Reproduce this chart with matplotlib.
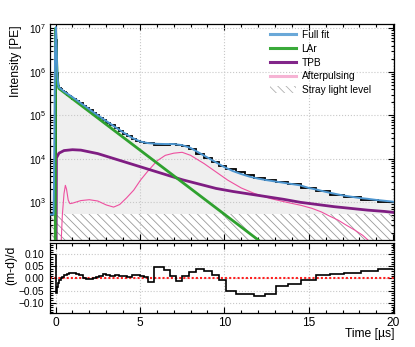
import os
import numpy as np
import matplotlib
matplotlib.use("Agg")
import matplotlib.pyplot as plt
from matplotlib import font_manager as fm
from matplotlib.lines import Line2D
from matplotlib.patches import Patch, Rectangle
from matplotlib.ticker import LogLocator, MultipleLocator, NullFormatter, FuncFormatter

# avoid the narrow variant being picked for "Liberation Sans"
fm.fontManager.ttflist = [f for f in fm.fontManager.ttflist
                          if 'narrow' not in os.path.basename(f.fname).lower()]

plt.rcParams['font.family'] = ['Liberation Sans', 'DejaVu Sans']
plt.rcParams['mathtext.fontset'] = 'custom'
plt.rcParams['mathtext.rm'] = 'Liberation Sans'
plt.rcParams['mathtext.default'] = 'regular'
plt.rcParams['hatch.linewidth'] = 0.6
plt.rcParams['axes.unicode_minus'] = True

# ---------------- data ----------------
# full fit (log10 of intensity)
fit_t = [-0.35, -0.12, -0.09, -0.06, -0.03, 0.0, 0.02, 0.05, 0.08, 0.11, 0.15, 0.19,
         0.5, 1.0, 1.5, 2.0, 2.5, 3.0, 3.5, 4.0, 4.5, 5.0, 5.5, 6.0, 6.5, 7.0, 7.5,
         8.0, 8.5, 9.0, 9.5, 10.0, 10.5, 11.0, 11.5, 12.0, 12.5, 13.0, 13.5, 14.0,
         14.5, 15.0, 15.5, 16.0, 16.5, 17.0, 17.5, 18.0, 18.5, 19.0, 19.5, 20.0, 20.3]
fit_log = [2.72, 2.72, 3.6, 5.0, 6.4, 6.9, 7.03, 6.75, 6.25, 5.9, 5.72, 5.65,
           5.55, 5.42, 5.28, 5.14, 5.00, 4.87, 4.74, 4.61, 4.49, 4.40, 4.36, 4.345,
           4.34, 4.34, 4.315, 4.25, 4.14, 4.03, 3.92, 3.81, 3.72, 3.65, 3.59, 3.545,
           3.51, 3.48, 3.45, 3.42, 3.39, 3.33, 3.29, 3.24, 3.20, 3.16, 3.13, 3.10,
           3.08, 3.055, 3.035, 3.015, 3.005]

# LAr component
lar_t = [-0.02, 0.0, 0.05, 0.1, 0.19, 2.0, 4.0, 6.0, 8.0, 10.0, 12.0, 13.0]
lar_log = [1.5, 7.0, 6.4, 5.85, 5.62, 5.086, 4.496, 3.906, 3.316, 2.726, 2.136, 1.84]

# TPB component
tpb_t = [0.03, 0.05, 0.2, 0.5, 1.0, 1.5, 2.5, 3.5, 4.5, 5.5, 6.5, 7.5, 8.5, 9.5,
         10.5, 11.5, 12.5, 13.5, 14.5, 15.5, 16.5, 17.5, 18.5, 19.5, 20.2]
tpb_log = [1.5, 4.02, 4.13, 4.19, 4.21, 4.20, 4.12, 4.00, 3.88, 3.76, 3.64, 3.52,
           3.42, 3.32, 3.25, 3.19, 3.13, 3.07, 3.00, 2.95, 2.90, 2.86, 2.82, 2.79, 2.76]

# Afterpulsing component
ap_t = [0.3, 0.4, 0.5, 0.58, 0.65, 0.75, 0.85, 1.0, 1.5, 2.0, 2.5, 3.0, 3.44, 3.8,
        4.2, 4.63, 5.03, 5.43, 6.0, 6.5, 7.0, 7.5, 8.0, 8.8, 9.5, 10.2, 11.0, 11.8,
        12.8, 13.7, 14.55, 15.2, 15.74, 16.2, 16.74, 17.2, 17.73, 18.2, 18.6, 18.9]
ap_log = [1.8, 2.7, 3.2, 3.39, 3.3, 3.05, 2.97, 2.98, 3.04, 3.06, 3.03, 2.94, 2.89,
          2.95, 3.10, 3.28, 3.51, 3.70, 3.95, 4.08, 4.13, 4.15, 4.08, 3.89, 3.70,
          3.51, 3.33, 3.20, 3.08, 3.00, 2.93, 2.86, 2.78, 2.69, 2.59, 2.48, 2.36,
          2.24, 2.10, 1.95]

stray_level = 540

# measured data histogram
bin_edges = [-0.3, -0.2, -0.1, 0.0, 0.03, 0.06, 0.09, 0.12, 0.16, 0.2, 0.3, 0.4,
             0.5, 0.6, 0.7, 0.8, 0.9, 1.0, 1.2, 1.4, 1.6, 1.8, 2.0, 2.2, 2.4, 2.6,
             2.8, 3.0, 3.25, 3.5, 3.75, 4.0, 4.25, 4.5, 4.75, 5.0, 5.25, 5.5, 5.86,
             6.4, 6.8, 7.15, 7.5, 7.9, 8.3, 8.78, 9.28, 9.67, 10.1, 10.68, 11.2,
             11.78, 12.43, 13.07, 13.76, 14.55, 15.4, 16.24, 17.1, 18.08, 19.1, 20.0]
data_counts = [520, 560, 600, 8.5e6, 5.3e6, 2.09e6, 9.2e5, 5.9e5, 4.77e5, 4.3e5,
               3.98e5, 3.64e5, 3.40e5, 3.19e5, 2.99e5, 2.82e5, 2.65e5, 2.41e5,
               2.13e5, 1.88e5, 1.67e5, 1.475e5, 1.298e5, 1.138e5, 9.94e4, 8.77e4,
               7.74e4, 6.78e4, 5.85e4, 5.03e4, 4.34e4, 3.76e4, 3.28e4, 2.89e4,
               2.60e4, 2.43e4, 2.33e4, 2.30e4, 2.11e4, 2.11e4, 2.17e4, 2.13e4,
               1.93e4, 1.65e4, 1.30e4, 1.02e4, 8290, 6890, 5800, 4870, 4180, 3720,
               3340, 2940, 2640, 2170, 1785, 1506, 1303, 1156, 1038]

# residuals (m-d)/d per bin (from t = 0 on)
resid = [np.nan, np.nan, np.nan, 0.098, -0.06, -0.045, -0.035, -0.025, -0.018,
         -0.008, 0.0, 0.008, 0.013, 0.016, 0.019, 0.021, 0.023, 0.023, 0.019,
         0.013, 0.004, -0.002, -0.003, 0.0, 0.006, 0.012, 0.017, 0.015, 0.012,
         0.014, 0.011, 0.010, 0.008, 0.015, 0.016, 0.010, 0.005, -0.014, 0.048,
         0.035, 0.010, -0.010, 0.010, 0.027, 0.038, 0.033, 0.015, -0.007, -0.052,
         -0.065, -0.066, -0.072, -0.063, -0.031, -0.024, -0.007, 0.015, 0.019,
         0.024, 0.030, 0.039]

# ---------------- figure ----------------
W, H = 415, 347
fig = plt.figure(figsize=(W / 100, H / 100), dpi=100)
ax = fig.add_axes([50 / W, 1 - 240 / H, 344 / W, 216 / H])
axr = fig.add_axes([50 / W, 1 - 313 / H, 344 / W, 70 / H], sharex=ax)

ymin, ymax = 136, 1.26e7
xmin, xmax = -0.33, 20.05

fit_v = 10 ** np.array(fit_log)
ax.fill_between(fit_t, fit_v, 1, color='#efefef', lw=0, zorder=0.5)
ax.add_patch(Rectangle((xmin, 1), xmax - xmin, stray_level - 1, facecolor='white',
                       edgecolor='#9a9a9a', hatch='\\\\\\\\', lw=0, zorder=0.8))

ax.stairs(data_counts, bin_edges, baseline=None, color='black', lw=1.3, zorder=2)
ax.plot(fit_t, fit_v, color='#4d96d0', lw=1.4, zorder=3)
ax.plot(lar_t, 10 ** np.array(lar_log), color='#2fa12f', lw=2.0, zorder=2.6)
ax.plot(tpb_t, 10 ** np.array(tpb_log), color='#7f1d82', lw=2.0, zorder=2.5)
ax.plot(ap_t, 10 ** np.array(ap_log), color='#ee4f9f', lw=0.8, zorder=2.4)

ax.set_yscale('log')
ax.set_xlim(xmin, xmax)
ax.set_ylim(ymin, ymax)
ax.yaxis.set_major_locator(LogLocator(base=10, numticks=10))
ax.yaxis.set_minor_locator(LogLocator(base=10, subs=np.arange(2, 10), numticks=20))
ax.yaxis.set_minor_formatter(NullFormatter())
ax.xaxis.set_major_locator(MultipleLocator(5))
ax.xaxis.set_minor_locator(MultipleLocator(1))

for a in (ax, axr):
    a.tick_params(which='both', direction='in', top=True, right=True, width=0.8)
    a.tick_params(which='major', length=4)
    a.tick_params(which='minor', length=2)
    a.grid(True, which='major', linestyle=':', color='#c8c8c8', lw=0.8)
    for s in a.spines.values():
        s.set_linewidth(0.9)

ax.tick_params(axis='x', labelbottom=False)
ax.tick_params(axis='y', labelsize=7.3, pad=3)

legend_handles = [
    Line2D([], [], color='#6aa8d8', lw=2.2),
    Line2D([], [], color='#3aaa3a', lw=2.2),
    Line2D([], [], color='#82268a', lw=2.2),
    Line2D([], [], color='#f6b3d4', lw=2.2),
    Patch(facecolor='white', edgecolor='#b0b0b0', hatch='\\\\\\\\', lw=0),
]
legend_labels = ['Full fit', 'LAr', 'TPB', 'Afterpulsing', 'Stray light level']
ax.legend(legend_handles, legend_labels, loc='upper left',
          bbox_to_anchor=(0.64, 0.972), frameon=False, fontsize=7.3,
          borderaxespad=0, borderpad=0, handlelength=2.5, handletextpad=0.6,
          labelspacing=0.37)

# residual panel
axr.stairs(resid[3:], bin_edges[3:], baseline=None, color='black', lw=1.2, zorder=3)
axr.axhline(0, color='#ff2020', lw=1.5, linestyle=(0, (1, 1)), zorder=2)
axr.set_ylim(-0.143, 0.147)
axr.yaxis.set_major_locator(MultipleLocator(0.05))
axr.yaxis.set_minor_locator(MultipleLocator(0.01))
axr.yaxis.set_major_formatter(FuncFormatter(
    lambda v, p: ('\u2212' if v < -1e-9 else '') + f"{abs(v):.2f}"))
axr.tick_params(axis='y', labelsize=7.3, pad=4)
axr.tick_params(axis='x', labelsize=8.6, pad=3)

fig.text(16 / W, 1 - 25 / H, 'Intensity [PE]', rotation=90, ha='center', va='top',
         fontsize=8.7)
fig.text(11 / W, 1 - 246 / H, '(m-d)/d', rotation=90, ha='center', va='top',
         fontsize=8.7)
fig.text(394 / W, 1 - 328.5 / H, 'Time [\u00b5s]', ha='right', va='top', fontsize=8.7)

fig.savefig('out.png', dpi=100)
